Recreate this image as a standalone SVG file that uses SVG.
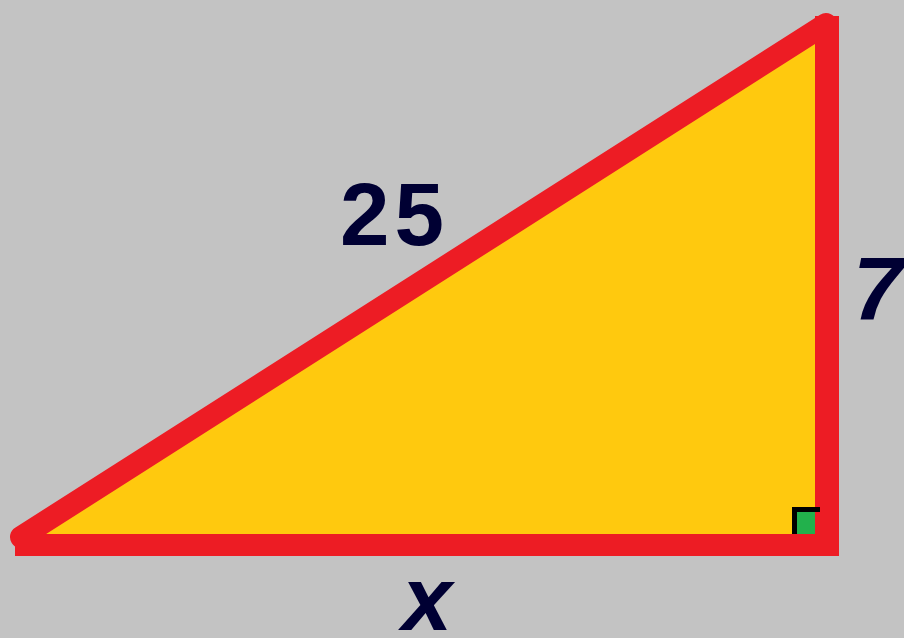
<svg xmlns="http://www.w3.org/2000/svg" width="904" height="638" viewBox="0 0 904 638">
<style>
.edge{fill:#ed1c24}
.lbl{font-family:"Liberation Sans",Arial,sans-serif;font-weight:bold;fill:#000033}
</style>
<rect width="904" height="638" fill="#c3c3c3"/>
<g id="triangle">
<polygon points="21,545 827,545 827,24" fill="#ffc90e"/>
<line x1="21" y1="537" x2="826" y2="24" stroke="#ed1c24" stroke-width="22" stroke-linecap="round"/>
<rect class="edge" x="15" y="534" width="824" height="22"/>
<rect class="edge" x="815" y="16" width="24" height="540"/>
</g>
<g id="right-angle">
<rect x="797" y="512" width="18" height="22" fill="#22b14c"/>
<path d="M794.5,534 V509.5 H820" fill="none" stroke="#000" stroke-width="5"/>
</g>
<g id="labels">
<text class="lbl" x="340" y="245" font-size="89" letter-spacing="5">25</text>
<text class="lbl" x="853" y="319" font-size="89" font-style="italic">7</text>
<text class="lbl" x="402" y="630" font-size="90" font-style="italic">x</text>
</g>
</svg>
